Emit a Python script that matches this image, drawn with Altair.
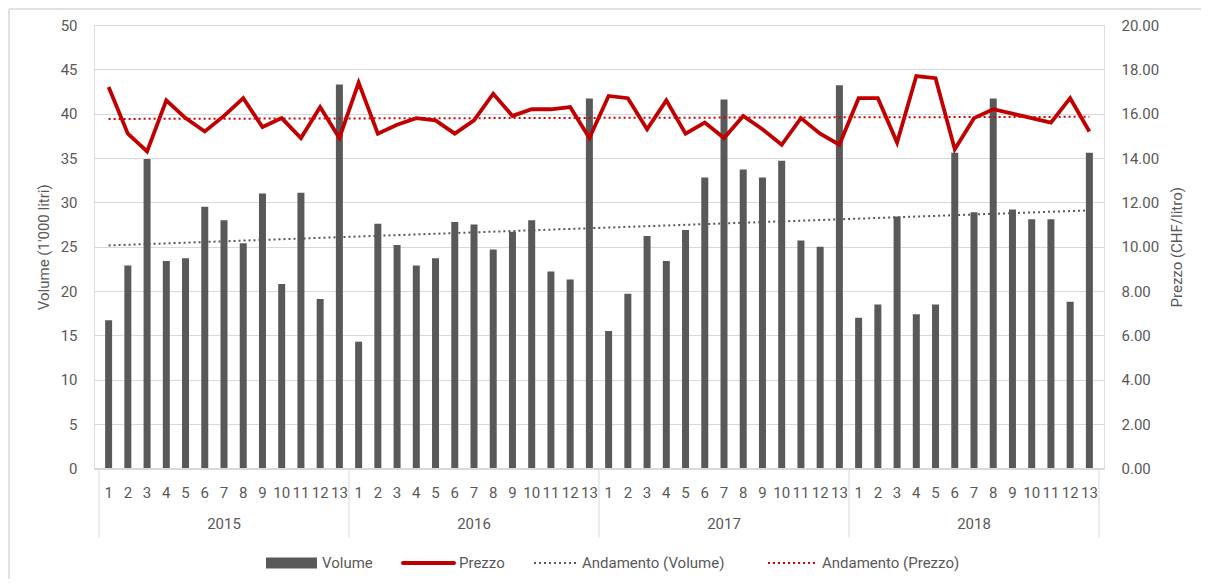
import altair as alt
import pandas as pd

years = [2015, 2016, 2017, 2018]
periods = list(range(1, 14))

volume_2015 = [16.7, 22.9, 34.9, 23.4, 23.7, 29.5, 28.0, 25.4, 31.0, 20.8, 31.1, 19.1, 43.3]
volume_2016 = [14.3, 27.6, 25.2, 22.9, 23.7, 27.8, 27.5, 24.7, 26.7, 28.0, 22.2, 21.3, 41.7]
volume_2017 = [15.5, 19.7, 26.2, 23.4, 26.9, 32.8, 41.6, 33.7, 32.8, 34.7, 25.7, 25.0, 43.2]
volume_2018 = [17.0, 18.5, 28.4, 17.4, 18.5, 35.6, 28.9, 41.7, 29.2, 28.1, 28.1, 18.8, 35.6]

prezzo_2015 = [17.2, 15.1, 14.3, 16.6, 15.8, 15.2, 15.9, 16.7, 15.4, 15.8, 14.9, 16.3, 14.9]
prezzo_2016 = [17.4, 15.1, 15.5, 15.8, 15.7, 15.1, 15.7, 16.9, 15.9, 16.2, 16.2, 16.3, 14.9]
prezzo_2017 = [16.8, 16.7, 15.3, 16.6, 15.1, 15.6, 14.9, 15.9, 15.3, 14.6, 15.8, 15.1, 14.6]
prezzo_2018 = [16.7, 16.7, 14.7, 17.7, 17.6, 14.4, 15.8, 16.2, 16.0, 15.8, 15.6, 16.7, 15.2]

vol_all = [volume_2015, volume_2016, volume_2017, volume_2018]
pr_all = [prezzo_2015, prezzo_2016, prezzo_2017, prezzo_2018]

rows = []
for yr, vols, prs in zip(years, vol_all, pr_all):
    for p, v, pr in zip(periods, vols, prs):
        rows.append({"year": str(yr), "period": p, "volume": v, "prezzo": pr})
df = pd.DataFrame(rows)
df["idx"] = range(len(df))

n = len(periods)
sep_df = pd.DataFrame({"b": [i * n - 0.5 for i in range(len(years) + 1)]})

W = 1010
H = 443.5
FONT = "Roboto"
TXT = "#595959"
GRID = "#d9d9d9"
RED = "#c00000"
GRAY = "#595959"

xscale = alt.Scale(domain=[-0.5, len(df) - 0.5], nice=False, zero=False)
xenc = alt.X("idx:Q", scale=xscale, axis=None)

yleft = alt.Y(
    "volume:Q",
    scale=alt.Scale(domain=[0, 50], nice=False),
    axis=alt.Axis(
        values=list(range(0, 51, 5)), title="Volume (1'000 litri)",
        grid=True, gridColor=GRID, domain=False, ticks=False,
        labelPadding=17, labelFontSize=15, labelColor=TXT, labelFont=FONT,
        titleFont=FONT, titleFontSize=15, titleColor=TXT, titleFontWeight="normal",
        titlePadding=9,
    ),
)

yright = alt.Y(
    "prezzo:Q",
    scale=alt.Scale(domain=[0, 20], nice=False),
    axis=alt.Axis(
        orient="right", values=list(range(0, 21, 2)), format=".2f",
        title="Prezzo (CHF/litro)", grid=False, domain=False, ticks=False,
        labelPadding=17, labelFontSize=15, labelColor=TXT, labelFont=FONT,
        titleFont=FONT, titleFontSize=15, titleColor=TXT, titleFontWeight="normal",
        titleAngle=270, titlePadding=26,
    ),
)

base = alt.Chart(df)

bars = base.mark_bar(size=7, color=GRAY).encode(x=xenc, y=yleft)
vtrend = base.transform_regression("idx", "volume").mark_line(
    color=GRAY, strokeDash=[2, 3], strokeWidth=2
).encode(x=xenc, y=yleft)
left = alt.layer(bars, vtrend)

pline = base.mark_line(color=RED, strokeWidth=3.8).encode(x=xenc, y=yright)
ptrend = base.transform_regression("idx", "prezzo").mark_line(
    color="#d40000", strokeDash=[2, 3], strokeWidth=2
).encode(x=xenc, y=yright)
right = alt.layer(pline, ptrend)

one = pd.DataFrame({"k": [0]})

# x axis baseline
xdomain = alt.Chart(one).mark_rule(color=GRID, strokeWidth=1).encode(
    x=alt.value(0), x2=alt.value(W), y=alt.value(H)
)
# period labels (category axis, level 1)
period_labels = base.mark_text(
    font=FONT, fontSize=15, color=TXT, baseline="middle"
).encode(x=xenc, y=alt.value(H + 24), text="period:N")
# year separators and labels (category axis, level 2)
seps = alt.Chart(sep_df).mark_rule(color=GRID, strokeWidth=1).encode(
    x=alt.X("b:Q", scale=xscale, axis=None), y=alt.value(H), y2=alt.value(H + 69)
)
year_labels = base.transform_aggregate(c="mean(idx)", groupby=["year"]).mark_text(
    font=FONT, fontSize=15, color=TXT, baseline="middle"
).encode(x=alt.X("c:Q", scale=xscale, axis=None), y=alt.value(H + 55), text="year:N")

# frame of the chart area (left and top edges)
frame_l = alt.Chart(one).mark_rule(color=GRID, strokeWidth=1.5).encode(
    x=alt.value(-85), y=alt.value(-16), y2=alt.value(H + 200)
)
frame_t = alt.Chart(one).mark_rule(color=GRID, strokeWidth=1.5).encode(
    x=alt.value(-85), x2=alt.value(W + 200), y=alt.value(-16)
)

# legend
LY = 538
leg = []
leg.append(alt.Chart(one).mark_rect(color=GRAY).encode(
    x=alt.value(172), x2=alt.value(223), y=alt.value(LY - 5.5), y2=alt.value(LY + 5.5)))
leg.append(alt.Chart(one).mark_rule(color=RED, strokeWidth=4, strokeCap="round").encode(
    x=alt.value(309), x2=alt.value(360), y=alt.value(LY)))
leg.append(alt.Chart(one).mark_rule(color=GRAY, strokeWidth=2, strokeDash=[2, 3]).encode(
    x=alt.value(440), x2=alt.value(483), y=alt.value(LY)))
leg.append(alt.Chart(one).mark_rule(color="#d40000", strokeWidth=2, strokeDash=[2, 3]).encode(
    x=alt.value(674), x2=alt.value(721), y=alt.value(LY)))
for tx, label in [(228, "Volume"), (365, "Prezzo"), (488, "Andamento (Volume)"), (728, "Andamento (Prezzo)")]:
    leg.append(alt.Chart(one).mark_text(
        font=FONT, fontSize=15, color=TXT, align="left", baseline="middle"
    ).encode(x=alt.value(tx), y=alt.value(LY), text=alt.value(label)))

chart = alt.layer(left, right).resolve_scale(y="independent")
chart = alt.layer(
    frame_l, frame_t, chart, xdomain, period_labels, seps, year_labels, *leg
).properties(
    width=W, height=H,
    autosize=alt.AutoSizeParams(type="none"),
    padding={"left": 86, "top": 17, "right": 97, "bottom": 110},
).configure_view(strokeWidth=0).configure(background="white")

chart.save("out.html", embed_options={"renderer": "svg", "actions": False})
